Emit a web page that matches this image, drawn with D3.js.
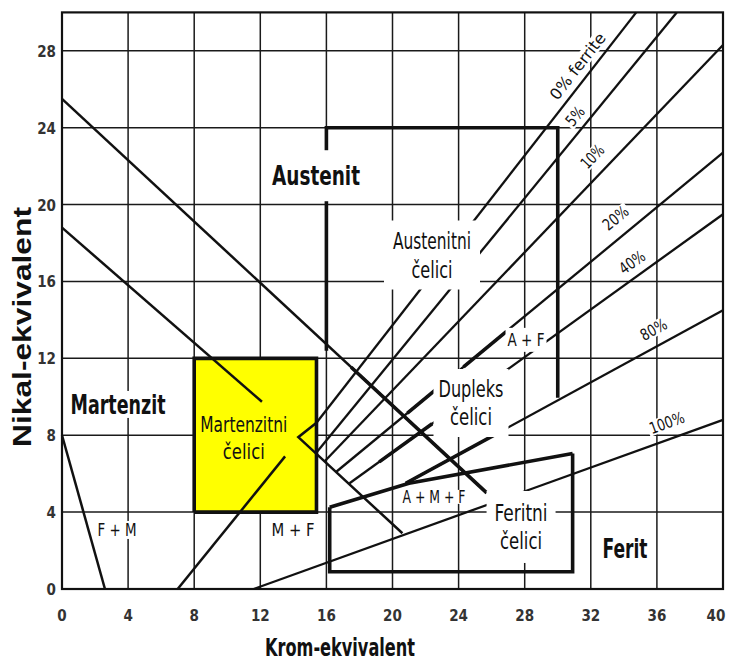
<!DOCTYPE html>
<html>
<head>
<meta charset="utf-8">
<script src="https://cdn.jsdelivr.net/npm/d3@7"></script>
<style>
body{margin:0;background:#fff;}
svg{display:block;}
text{font-family:"Liberation Sans Narrow","Arial Narrow","DejaVu Sans Condensed",sans-serif;}
</style>
</head>
<body>
<div id="chart"></div>
<script>
// axis ticks
var xTicks = [0,4,8,12,16,20,24,28,32,36,40];
var yTicks = [0,4,8,12,16,20,24,28];

// iso-ferrite lines: start point, end point, label anchor (data units)
var isoNames = ["0% ferrite","5%","10%","20%","40%","80%","100%"];
var isoFrom = [[15.4,8.65],[15.4,7.1],[15.9,6.65],[16.6,6.1],[17.4,5.5],[20.8,5.5],[11.6,0]];
var isoTo = [[34.75,30],[37.2,30],[40,28.3],[40,22.7],[40,19.5],[40,14.5],[40,8.8]];
var isoLabelAt = [[31.2,27.2],[31.05,24.6],[32.1,22.5],[33.5,19.3],[34.5,17.0],[35.8,13.5],[36.6,8.65]];
// heavier parts of the iso lines: [line index, from Cr, to Cr]
var isoHeavy = [[3,20.9,22.6],[3,24.3,26.9],[4,19.2,22.4],[5,20.8,26.4]];

// phase boundaries
var lineAusMart = [[0,25.5],[25.7,5.0]];
var lineMartAus = [[0,18.8],[12.1,9.74]];
var lineFerMart = [[0,8],[2.6,0]];
var lineMartFer = [[7,0],[13.5,6.9]];
var lineAMF = [[15.4,8.65],[14.3,7.9],[20.6,2.9]];

// steel regions
var boxAustenitni = [[16,12.4],[16,24],[30,24],[30,9.95]];
var boxMartenzitni = [[8,4],[8,12],[15.4,12],[15.4,4],[8,4]];
var boxFeritni = [[16.2,4.25],[16.2,0.9],[30.9,0.9],[30.9,7.05]];
var lineFeritTop = [[16.2,4.25],[21,5.5],[30.9,7.05]];

// text labels
var bigNames = ["Austenit","Martenzit","Ferit"];
var bigAt = [[15.37,21.5],[3.39,9.6],[34.07,2.13]];
var steelNames = [["Austenitni","čelici"],["Dupleks","čelici"],["Feritni","čelici"],["Martenzitni","čelici"]];
var steelAt = [[22.39,17.38],[24.75,9.68],[27.78,3.23],[11.0,7.86]];
var mixNames = ["F + M","M + F","A + F","A + M + F"];
var mixAt = [[3.33,3.07],[13.98,3.07],[28.08,12.96],[22.51,4.79]];

var svg = d3.select("#chart").append("svg")
    .attr("width", 730)
    .attr("height", 661);

svg.append("rect").attr("width",730).attr("height",661).attr("fill","#fff");

var x = d3.scaleLinear().domain([0,40]).range([62,723]);
var y = d3.scaleLinear().domain([0,30]).range([589,12.4]);
var line = d3.line()
    .x(function(d){ return x(d[0]); })
    .y(function(d){ return y(d[1]); });

function isoY(i, cr){
    var a = isoFrom[i], b = isoTo[i];
    return a[1] + (b[1]-a[1])*(cr-a[0])/(b[0]-a[0]);
}

// grid
var grid = svg.append("g").attr("stroke","#1a1a1a").attr("stroke-width",1.5);
grid.selectAll(".gx").data(xTicks.slice(1,-1)).enter().append("line")
    .attr("x1", function(d){ return x(d); }).attr("x2", function(d){ return x(d); })
    .attr("y1", y(0)).attr("y2", y(30));
grid.selectAll(".gy").data(yTicks.slice(1)).enter().append("line")
    .attr("x1", x(0)).attr("x2", x(40))
    .attr("y1", function(d){ return y(d); }).attr("y2", function(d){ return y(d); });

// yellow martensitic box over the grid
svg.append("path")
    .datum(boxMartenzitni)
    .attr("d", line)
    .attr("fill", "#ffff00")
    .attr("stroke", "none");

svg.append("rect")
    .attr("x", x(0)).attr("y", y(30))
    .attr("width", x(40)-x(0)).attr("height", y(0)-y(30))
    .attr("fill","none").attr("stroke","#111").attr("stroke-width",2.2);

// label helper: texts in a group, background rect behind them
function label(parent, lines, px, py, o){
    var g = parent.append("g").attr("transform", "translate(" + px + "," + py + ")" + (o.rotate ? " rotate(" + o.rotate + ")" : ""));
    var bg = g.append("rect").attr("fill", o.bg || "#fff");
    var n = lines.length;
    lines.forEach(function(s, k){
        var t = g.append("text")
            .attr("x", 0)
            .attr("y", (k - (n-1)/2) * (o.lh || 0))
            .attr("dy", "0.35em")
            .attr("text-anchor", "middle")
            .attr("font-size", o.size)
            .attr("font-weight", o.bold ? "bold" : "normal")
            .attr("fill", o.color || "#111")
            .text(s);
        if (o.len) {
            t.attr("textLength", o.len[k]).attr("lengthAdjust", "spacingAndGlyphs");
        }
    });
    var b = g.node().getBBox();
    bg.attr("x", b.x - o.px).attr("y", b.y - o.py)
      .attr("width", b.width + 2*o.px).attr("height", b.height + 2*o.py);
    if (o.nobg) bg.remove();
    return g;
}

// labels that only hide the grid
var under = svg.append("g");
var isoLens = [80,20,26,28,28,28,36];
isoNames.forEach(function(s, i){
    var a = isoFrom[i], b = isoTo[i];
    var ang = Math.atan2(y(b[1])-y(a[1]), x(b[0])-x(a[0])) * 180 / Math.PI;
    label(under, [s], x(isoLabelAt[i][0]), y(isoLabelAt[i][1]),
        {size:16, len:[isoLens[i]], rotate:ang, px:2, py:-2});
});
label(under, [bigNames[1]], x(bigAt[1][0]), y(bigAt[1][1]), {size:27, bold:true, len:[95], px:3, py:-2});
label(under, [bigNames[2]], x(bigAt[2][0]), y(bigAt[2][1]), {size:27, bold:true, len:[45], px:3, py:-2});
var mixLens = [39,43,37,63];
label(under, [mixNames[0]], x(mixAt[0][0]), y(mixAt[0][1]), {size:17, len:[mixLens[0]], px:3, py:-1});
label(under, [mixNames[1]], x(mixAt[1][0]), y(mixAt[1][1]), {size:17, len:[mixLens[1]], px:3, py:-1});
label(under, [mixNames[3]], x(mixAt[3][0]), y(mixAt[3][1]), {size:17, len:[mixLens[3]], px:2, py:-3});

// iso-ferrite lines
isoNames.forEach(function(s, i){
    svg.append("path")
        .datum([isoFrom[i], isoTo[i]])
        .attr("d", line)
        .attr("fill","none")
        .attr("stroke","#111")
        .attr("stroke-width", 2.3);
});
isoHeavy.forEach(function(h){
    svg.append("path")
        .datum([[h[1], isoY(h[0], h[1])], [h[2], isoY(h[0], h[2])]])
        .attr("d", line)
        .attr("fill","none")
        .attr("stroke","#111")
        .attr("stroke-width", 3.6);
});

// phase boundaries
[lineAusMart, lineMartAus, lineFerMart, lineMartFer, lineAMF].forEach(function(p){
    svg.append("path")
        .datum(p)
        .attr("d", line)
        .attr("fill","none")
        .attr("stroke","#111")
        .attr("stroke-linejoin","miter")
        .attr("stroke-width", 2.5);
});
svg.append("path")
    .datum([[17.5, 25.5-0.7977*17.5], lineAusMart[1]])
    .attr("d", line)
    .attr("fill","none")
    .attr("stroke","#111")
    .attr("stroke-width", 3.6);

// region outlines
[boxAustenitni, boxMartenzitni, boxFeritni, lineFeritTop].forEach(function(p){
    svg.append("path")
        .datum(p)
        .attr("d", line)
        .attr("fill","none")
        .attr("stroke","#111")
        .attr("stroke-linejoin","miter")
        .attr("stroke-width", 3.6);
});

// labels that cut through the lines
var over = svg.append("g");
label(over, [bigNames[0]], x(bigAt[0][0]), y(bigAt[0][1]), {size:27, bold:true, len:[88], px:4, py:10});
label(over, steelNames[0], x(steelAt[0][0]), y(steelAt[0][1]), {size:23, lh:29, len:[78,41], px:9, py:7});
label(over, steelNames[1], x(steelAt[1][0]), y(steelAt[1][1]), {size:23, lh:28, len:[65,42], px:5, py:7});
label(over, steelNames[2], x(steelAt[2][0]), y(steelAt[2][1]), {size:23, lh:28, len:[53,42], px:8, py:9});
label(over, [mixNames[2]], x(mixAt[2][0]), y(mixAt[2][1]), {size:17, len:[mixLens[2]], px:2, py:2});
label(over, steelNames[3], x(steelAt[3][0]), y(steelAt[3][1]), {size:22, lh:27, len:[87,42], px:0, py:0, nobg:true});

// tick labels
svg.append("g").selectAll("text").data(xTicks).enter().append("text")
    .attr("x", function(d){ return Math.min(x(d), 716); })
    .attr("y", 621)
    .attr("text-anchor","middle")
    .attr("font-size", 15)
    .attr("font-weight","bold")
    .attr("fill","#333")
    .text(function(d){ return d; });
svg.append("g").selectAll("text").data(yTicks).enter().append("text")
    .attr("x", 56)
    .attr("y", function(d){ return y(d) + 6; })
    .attr("text-anchor","end")
    .attr("font-size", 15)
    .attr("font-weight","bold")
    .attr("fill","#333")
    .text(function(d){ return d; });

// axis titles
svg.append("text")
    .attr("x", 340).attr("y", 656)
    .attr("text-anchor","middle")
    .attr("font-size", 24)
    .attr("font-weight","bold")
    .attr("fill","#111")
    .attr("textLength", 150)
    .attr("lengthAdjust","spacingAndGlyphs")
    .text("Krom-ekvivalent");
svg.append("text")
    .attr("transform","translate(31,327) rotate(-90)")
    .attr("text-anchor","middle")
    .style("font-family","'Liberation Sans',Arial,sans-serif")
    .attr("font-size", 25)
    .attr("font-weight","bold")
    .attr("fill","#111")
    .attr("textLength", 240)
    .attr("lengthAdjust","spacingAndGlyphs")
    .text("Nikal-ekvivalent");
</script>
</body>
</html>
